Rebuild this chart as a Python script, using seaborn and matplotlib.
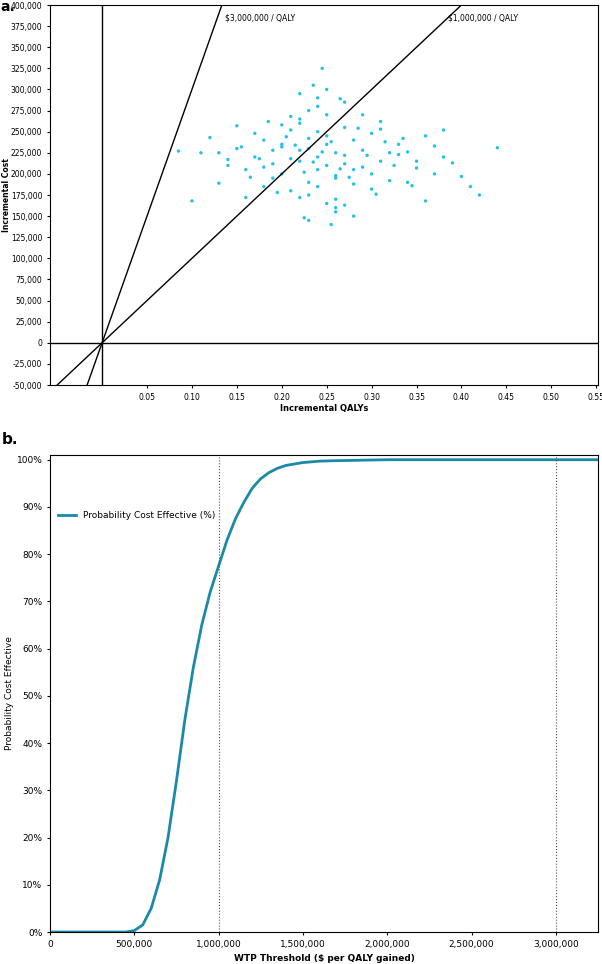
import matplotlib
matplotlib.use("Agg")
import matplotlib.pyplot as plt
import seaborn as sns
import pandas as pd
from matplotlib.ticker import FuncFormatter

# PSA scatter (representative points estimated from the cloud)
psa_qaly = [0.24,0.22,0.26,0.25,0.23,0.21,0.27,0.28,0.20,0.19,0.29,0.30,0.18,0.31,0.17,0.32,0.24,0.23,0.25,0.26,
            0.22,0.21,0.27,0.24,0.25,0.23,0.20,0.28,0.26,0.22,0.33,0.16,0.34,0.15,0.35,0.14,0.36,0.37,0.13,0.38,
            0.24,0.25,0.23,0.26,0.22,0.27,0.21,0.28,0.20,0.29,0.19,0.30,0.18,0.31,0.24,0.25,0.23,0.26,0.22,0.27,
            0.235,0.245,0.255,0.225,0.265,0.215,0.275,0.205,0.285,0.195,0.295,0.185,0.305,0.175,0.315,0.165,0.325,0.155,0.335,0.345,
            0.24,0.26,0.22,0.28,0.20,0.30,0.18,0.32,0.25,0.23,0.21,0.27,0.29,0.19,0.31,0.17,0.33,0.35,0.16,0.14,
            0.39,0.40,0.12,0.41,0.11,0.085,0.44,0.42,0.10,0.38,0.36,0.15,0.34,0.13,0.37,0.245,0.255,0.235,0.225,0.265]
psa_cost = [220000,215000,225000,210000,230000,218000,222000,205000,235000,212000,228000,200000,240000,215000,220000,225000,250000,190000,245000,195000,
            260000,180000,255000,185000,270000,175000,200000,240000,170000,265000,235000,205000,190000,230000,215000,210000,245000,200000,225000,220000,
            205000,235000,242000,198000,228000,212000,252000,188000,232000,208000,195000,248000,185000,262000,280000,165000,275000,160000,172000,285000,
            214000,226000,238000,202000,206000,234000,196000,244000,254000,178000,222000,262000,176000,218000,238000,196000,210000,232000,242000,186000,
            290000,155000,295000,150000,258000,182000,208000,192000,300000,145000,268000,163000,270000,228000,253000,248000,223000,207000,172000,217000,
            213000,197000,243000,185000,225000,227000,231000,175000,168000,252000,168000,257000,226000,189000,233000,325000,140000,305000,148000,289000]

# CEAC
wtp = [0,300000,450000,500000,550000,600000,650000,700000,750000,800000,850000,900000,950000,1000000,1050000,1100000,
       1150000,1200000,1250000,1300000,1350000,1400000,1500000,1600000,1700000,2000000,2500000,3000000,3250000]
prob = [0,0,0,0.003,0.015,0.05,0.11,0.20,0.32,0.45,0.56,0.65,0.72,0.775,0.83,0.875,0.91,0.94,0.96,0.973,0.982,0.988,0.994,0.997,0.998,1.0,1.0,1.0,1.0]

fig = plt.figure(figsize=(6.02, 9.64), dpi=100)
ax1 = fig.add_axes([50/602, 1-385/964, 548/602, 380/964])
ax2 = fig.add_axes([50/602, 1-932/964, 548/602, 477/964])

df1 = pd.DataFrame({"q": psa_qaly, "c": psa_cost})
sns.scatterplot(data=df1, x="q", y="c", ax=ax1, s=6, color="#22c2e8", edgecolor="none", legend=False)
xl = (-0.058, 0.552)
ax1.set_xlim(*xl); ax1.set_ylim(-50000, 400000)
ax1.axhline(0, color="black", lw=1); ax1.axvline(0, color="black", lw=1)
for w, lab, lx in [(3000000, "$3,000,000 / QALY", 0.137), (1000000, "$1,000,000 / QALY", 0.385)]:
    ax1.plot(xl, [w*xl[0], w*xl[1]], color="black", lw=1)
    ax1.text(lx, 385000, lab, fontsize=5.5, va="center")
ax1.set_xticks([0.05,0.10,0.15,0.20,0.25,0.30,0.35,0.40,0.45,0.50,0.55])
ax1.xaxis.set_major_formatter(FuncFormatter(lambda v, p: f"{v:.2f}"))
ax1.set_yticks(range(-50000, 400001, 25000))
ax1.yaxis.set_major_formatter(FuncFormatter(lambda v, p: f"{int(v):,}"))
ax1.tick_params(labelsize=5.5, length=2)
ax1.set_xlabel("Incremental QALYs", fontsize=6, fontweight="bold", labelpad=2)
ax1.set_ylabel("Incremental Cost", fontsize=5.5, fontweight="bold", labelpad=0)
fig.text(0.0, 1.0, "a.", fontsize=10, fontweight="bold", va="top")

df2 = pd.DataFrame({"w": wtp, "p": prob})
sns.lineplot(data=df2, x="w", y="p", ax=ax2, color="#1a8aa6", lw=2, label="Probability Cost Effective (%)")
ax2.set_xlim(0, 3250000); ax2.set_ylim(0, 1.01)
for v in (1000000, 3000000):
    ax2.axvline(v, color="#555555", lw=0.8, ls=":")
ax2.set_xticks(range(0, 3000001, 500000))
ax2.xaxis.set_major_formatter(FuncFormatter(lambda v, p: f"{int(v):,}"))
ax2.set_yticks([i/10 for i in range(11)])
ax2.yaxis.set_major_formatter(FuncFormatter(lambda v, p: f"{int(round(v*100))}%"))
ax2.tick_params(labelsize=6.5, length=2)
ax2.set_xlabel("WTP Threshold ($ per QALY gained)", fontsize=6.5, fontweight="bold")
ax2.set_ylabel("Probability Cost Effective", fontsize=6.5, labelpad=2)
ax2.legend(loc="upper left", bbox_to_anchor=(0.0, 0.9), frameon=False, fontsize=6.5)
fig.text(0.003, 1-440/964, "b.", fontsize=11, fontweight="bold", va="center")
fig.savefig("out.png", dpi=100)
